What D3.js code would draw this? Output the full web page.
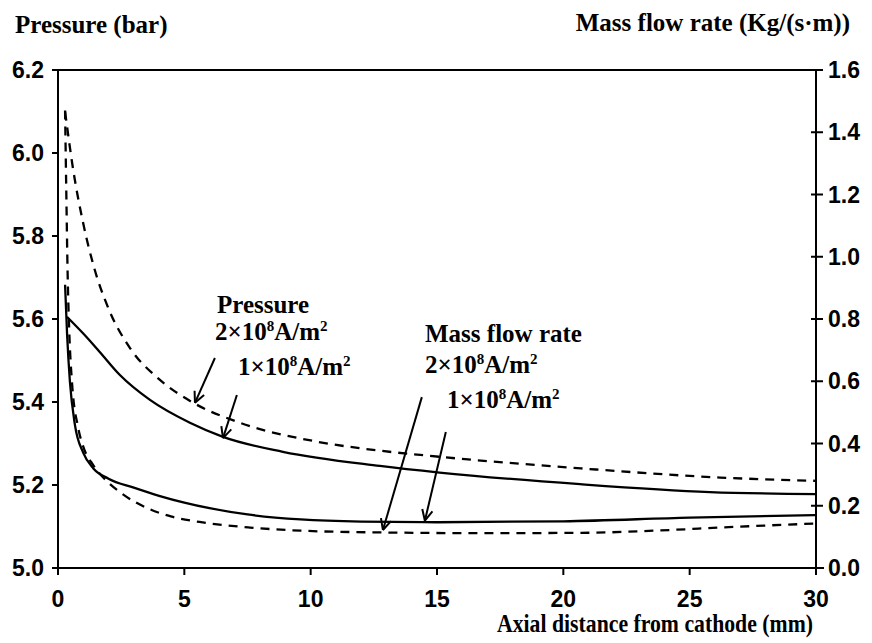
<!DOCTYPE html>
<html>
<head>
<meta charset="utf-8">
<script src="https://cdn.jsdelivr.net/npm/d3@7"></script>
<style>
  body { margin: 0; background: #fff; }
  svg { display: block; }
  .tick-lbl { font-family: "Liberation Sans", Arial, sans-serif; font-weight: bold; font-size: 23px; fill: #000; }
  .serif { font-family: "Liberation Serif", "Times New Roman", serif; font-weight: bold; font-size: 25px; fill: #000; }
</style>
</head>
<body>
<svg id="chart"></svg>
<script>
// pressure curves (bar), left axis
var pressX2 = [0.28, 0.6, 1.0, 1.4, 2.0, 2.85, 4.0, 5.3, 7.2, 10.2, 12.7, 15.1, 20.7, 26.2, 30];
var pressY2 = [6.10, 5.96, 5.83, 5.73, 5.625, 5.53, 5.455, 5.40, 5.35, 5.305, 5.283, 5.268, 5.24, 5.218, 5.21];
var pressX1 = [0.36, 1.0, 1.66, 2.45, 3.64, 5.22, 6.53, 8.9, 12.74, 15.1, 20.66, 25.8, 30];
var pressY1 = [5.605, 5.565, 5.52, 5.465, 5.405, 5.35, 5.316, 5.28, 5.246, 5.23, 5.202, 5.183, 5.178];

// mass flow rate curves (Kg/(s.m)), right axis
var massX2 = [0.28, 0.33, 0.38, 0.45, 0.55, 0.8, 1.0, 1.4, 1.8, 2.6, 3.6, 4.5, 5.6, 7.6, 9.6, 13, 17, 20.7, 24.2, 26.2, 30];
var massY2 = [1.47, 1.2, 0.95, 0.75, 0.6, 0.45, 0.39, 0.33, 0.29, 0.235, 0.19, 0.165, 0.148, 0.13, 0.12, 0.114, 0.112, 0.113, 0.122, 0.13, 0.143];
var massX1 = [0.28, 0.36, 0.47, 0.67, 1.0, 1.4, 2.0, 3.0, 4.0, 5.0, 6.0, 7.5, 9.6, 12, 15, 20, 25, 30];
var massY1 = [0.91, 0.75, 0.60, 0.46, 0.37, 0.32, 0.287, 0.258, 0.232, 0.21, 0.192, 0.172, 0.156, 0.149, 0.147, 0.150, 0.162, 0.170];

var xTicks = [0, 5, 10, 15, 20, 25, 30];
var leftTicks = [5.0, 5.2, 5.4, 5.6, 5.8, 6.0, 6.2];
var rightTicks = [0.0, 0.2, 0.4, 0.6, 0.8, 1.0, 1.2, 1.4, 1.6];

var width = 872, height = 643;
var svg = d3.select("#chart").attr("width", width).attr("height", height);

var x = d3.scaleLinear().domain([0, 30]).range([58, 816]);
var yL = d3.scaleLinear().domain([5.0, 6.2]).range([568, 70]);
var yR = d3.scaleLinear().domain([0, 1.6]).range([568, 70]);

// frame lines: top, left, right, bottom
var ax = svg.append("g").attr("stroke", "#000").attr("stroke-width", 2);
ax.append("line").attr("x1", x(0)).attr("x2", x(30)).attr("y1", yL(6.2)).attr("y2", yL(6.2));
ax.append("line").attr("x1", x(0)).attr("x2", x(0)).attr("y1", yL(6.2)).attr("y2", yL(5.0));
ax.append("line").attr("x1", x(30)).attr("x2", x(30)).attr("y1", yL(6.2)).attr("y2", yL(5.0) + 6);
ax.append("line").attr("x1", x(0) - 6).attr("x2", x(30) + 8).attr("y1", yL(5.0)).attr("y2", yL(5.0));

// left ticks
ax.selectAll(".lt").data(leftTicks).enter().append("line")
  .attr("x1", x(0) - 6).attr("x2", x(0))
  .attr("y1", d => yL(d)).attr("y2", d => yL(d));
svg.selectAll(".ltl").data(leftTicks).enter().append("text")
  .attr("class", "tick-lbl")
  .attr("x", 44).attr("y", d => yL(d) + 8)
  .attr("text-anchor", "end")
  .text(d => d.toFixed(1));

// right ticks (cross the axis)
ax.selectAll(".rt").data(rightTicks).enter().append("line")
  .attr("x1", x(30) - 5).attr("x2", x(30) + 7)
  .attr("y1", d => yR(d)).attr("y2", d => yR(d));
svg.selectAll(".rtl").data(rightTicks).enter().append("text")
  .attr("class", "tick-lbl")
  .attr("x", 828).attr("y", d => yR(d) + 8)
  .text(d => d.toFixed(1));

// bottom ticks
ax.selectAll(".bt").data(xTicks).enter().append("line")
  .attr("x1", d => x(d)).attr("x2", d => x(d))
  .attr("y1", yL(5.0)).attr("y2", yL(5.0) + 7);
svg.selectAll(".btl").data(xTicks).enter().append("text")
  .attr("class", "tick-lbl")
  .attr("x", d => x(d)).attr("y", 607)
  .attr("text-anchor", "middle")
  .text(d => d);

// axis titles
svg.append("text").attr("class", "serif").attr("x", 15).attr("y", 33).attr("font-size", 26).text("Pressure (bar)");
svg.append("text").attr("class", "serif").attr("x", 850).attr("y", 31).attr("text-anchor", "end").text("Mass flow rate (Kg/(s\u00b7m))");
svg.append("text").attr("class", "serif").attr("x", 497).attr("y", 632)
  .attr("font-size", 23).attr("textLength", 316).attr("lengthAdjust", "spacingAndGlyphs")
  .text("Axial distance from cathode (mm)");

// curves
function zip(xs, ys) { return xs.map((v, i) => [v, ys[i]]); }
var lineL = d3.line().x(d => x(d[0])).y(d => yL(d[1])).curve(d3.curveMonotoneX);
var lineR = d3.line().x(d => x(d[0])).y(d => yR(d[1])).curve(d3.curveMonotoneX);

var curves = [
  { pts: zip(pressX2, pressY2), line: lineL, dash: "9,7" },
  { pts: zip(pressX1, pressY1), line: lineL, dash: null },
  { pts: zip(massX2, massY2), line: lineR, dash: "9,7" },
  { pts: zip(massX1, massY1), line: lineR, dash: null }
];
svg.selectAll(".curve").data(curves).enter().append("path")
  .attr("d", d => d.line(d.pts))
  .attr("fill", "none")
  .attr("stroke", "#000")
  .attr("stroke-width", 2.3)
  .attr("stroke-dasharray", d => d.dash);

// arrows: tail and tip in data units
var arrows = [
  { from: [6.21, 5.506], to: [5.42, 5.398], s: yL },
  { from: [7.08, 5.417], to: [6.53, 5.313], s: yL },
  { from: [14.4, 0.549], to: [12.86, 0.122], s: yR },
  { from: [15.35, 0.437], to: [14.52, 0.152], s: yR }
];
arrows.forEach(function(a) {
  var x1 = x(a.from[0]), y1 = a.s(a.from[1]);
  var x2 = x(a.to[0]), y2 = a.s(a.to[1]);
  var ang = Math.atan2(y2 - y1, x2 - x1);
  var g = svg.append("g").attr("stroke", "#000").attr("stroke-width", 2).attr("fill", "none");
  g.append("line").attr("x1", x1).attr("y1", y1).attr("x2", x2).attr("y2", y2);
  [-0.45, 0.45].forEach(function(o) {
    g.append("line").attr("x1", x2).attr("y1", y2)
      .attr("x2", x2 - 12 * Math.cos(ang + o))
      .attr("y2", y2 - 12 * Math.sin(ang + o));
  });
});

// in-plot labels
function current(px, py, n) {
  var t = svg.append("text").attr("class", "serif").attr("x", px).attr("y", py);
  t.append("tspan").text(n + "\u00d710");
  t.append("tspan").attr("dy", -9).attr("font-size", 15).text("8");
  t.append("tspan").attr("dy", 9).text("A/m");
  t.append("tspan").attr("dy", -9).attr("font-size", 15).text("2");
}
svg.append("text").attr("class", "serif").attr("x", 217).attr("y", 313).text("Pressure");
current(215, 340, "2");
current(238, 375, "1");
svg.append("text").attr("class", "serif").attr("x", 425).attr("y", 342).text("Mass flow rate");
current(425, 373, "2");
current(447, 408, "1");
</script>
</body>
</html>
